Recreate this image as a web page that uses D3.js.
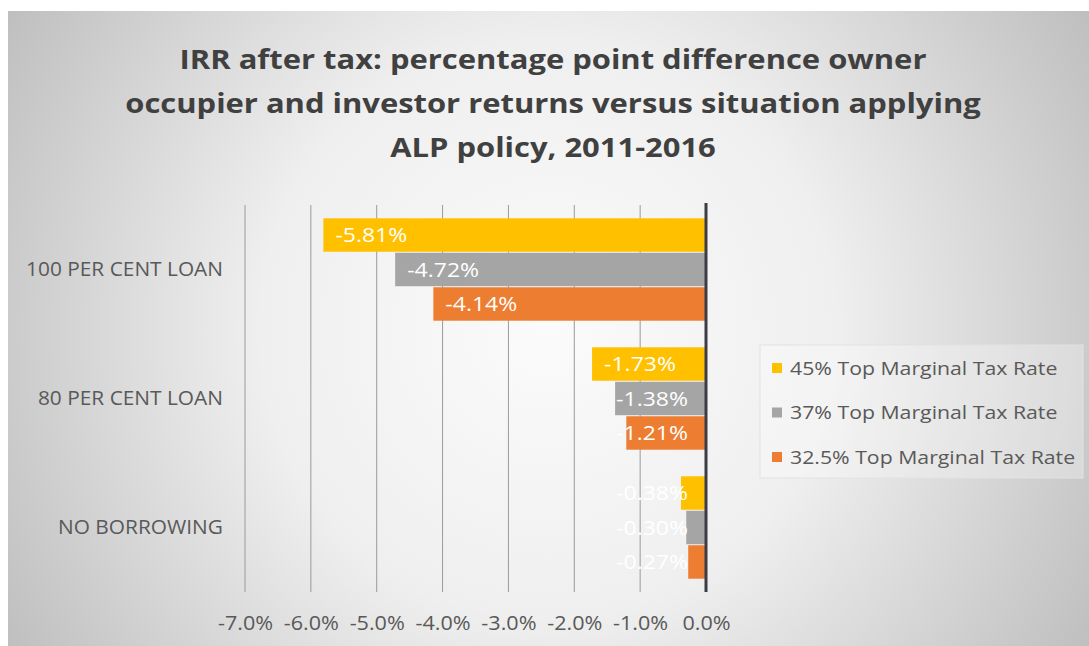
<!DOCTYPE html>
<html>
<head>
<meta charset="utf-8">
<script src="https://cdn.jsdelivr.net/npm/d3@7"></script>
<style>
  body { margin: 0; background: #fff; }
  svg { display: block; font-family: "Open Sans", sans-serif; }
</style>
</head>
<body>
<svg id="chart" width="1089" height="646"></svg>
<script>
var categories = ["100 PER CENT LOAN", "80 PER CENT LOAN", "NO BORROWING"];
var seriesNames = ["45% Top Marginal Tax Rate", "37% Top Marginal Tax Rate", "32.5% Top Marginal Tax Rate"];
var seriesColors = ["#FFC000", "#A5A5A5", "#ED7D31"];
var rate45 = [-5.81, -1.73, -0.38];
var rate37 = [-4.72, -1.38, -0.30];
var rate325 = [-4.14, -1.21, -0.27];
var xTicks = [-7, -6, -5, -4, -3, -2, -1, 0];
var titleLines = ["IRR after tax: percentage point difference owner",
                  "occupier and investor returns versus situation applying",
                  "ALP policy, 2011-2016"];

var seriesValues = [rate45, rate37, rate325];

var svg = d3.select("#chart");

// the source picture is a bit wider than tall, so texts get a horizontal stretch
function stretch(sel, sx) {
    sel.each(function() {
        var t = d3.select(this);
        var tx = +t.attr("x") || 0, ty = +t.attr("y") || 0;
        t.attr("x", 0).attr("y", 0)
         .attr("transform", "translate(" + tx + "," + ty + ") scale(" + sx + ",1)");
    });
}

// background: radial grey fill like the excel chart area
var defs = svg.append("defs");
var grad = defs.append("radialGradient")
    .attr("id", "bg")
    .attr("gradientUnits", "userSpaceOnUse")
    .attr("cx", 548).attr("cy", 330).attr("r", 640);
grad.append("stop").attr("offset", "0%").attr("stop-color", "#fbfbfb");
grad.append("stop").attr("offset", "45%").attr("stop-color", "#efefef");
grad.append("stop").attr("offset", "100%").attr("stop-color", "#bdbdbd");

svg.append("rect")
    .attr("x", 8).attr("y", 11)
    .attr("width", 1089 - 8).attr("height", 646 - 11)
    .style("fill", "url(#bg)");

var plot = { left: 245, right: 706, top: 205, bottom: 592 };

var x = d3.scaleLinear()
    .domain([-7, 0])
    .range([plot.left, plot.right]);

var y0 = d3.scaleBand()
    .domain(categories)
    .range([plot.top, plot.bottom])
    .paddingInner(0.19)
    .paddingOuter(0.095);

var y1 = d3.scaleBand()
    .domain(d3.range(seriesNames.length))
    .range([0, y0.bandwidth()])
    .padding(0.03);

// title
var title = svg.append("g")
    .selectAll("text")
    .data(titleLines)
    .enter()
    .append("text")
    .attr("x", 553)
    .attr("y", function(d, i) { return 69 + i * 44; })
    .attr("text-anchor", "middle")
    .style("font-size", "26px")
    .style("font-weight", "bold")
    .style("fill", "#404040")
    .text(function(d) { return d; });
stretch(title, 1.19);

// gridlines
svg.append("g")
    .selectAll("line")
    .data(xTicks.filter(function(d) { return d !== 0; }))
    .enter()
    .append("line")
    .attr("x1", function(d) { return x(d); })
    .attr("x2", function(d) { return x(d); })
    .attr("y1", plot.top)
    .attr("y2", plot.bottom)
    .style("stroke", "#9a9a9a")
    .style("stroke-width", 1);

// x axis labels
var xAxis = d3.axisBottom(x)
    .tickValues(xTicks)
    .tickSize(0)
    .tickPadding(0);

var gx = svg.append("g")
    .attr("transform", "translate(0," + plot.bottom + ")")
    .call(xAxis);
gx.select(".domain").remove();
var xText = gx.selectAll("text")
    .attr("y", 31)
    .attr("dy", "0.35em")
    .style("font-family", "Open Sans, sans-serif")
    .style("font-size", "20px")
    .style("fill", "#595959")
    .text(function(d) { return d3.format(".1f")(d).replace("−", "-") + "%"; });
stretch(xText, 1.08);

// category labels
var yAxis = d3.axisLeft(y0).tickSize(0).tickPadding(22);
var gy = svg.append("g")
    .attr("transform", "translate(" + plot.left + ",0)")
    .call(yAxis);
gy.select(".domain").remove();
var yText = gy.selectAll("text")
    .style("font-family", "Open Sans, sans-serif")
    .style("font-size", "19.5px")
    .style("fill", "#595959");
stretch(yText, 1.07);

// bars
var rows = categories.map(function(c, ci) {
    return {
        category: c,
        values: seriesValues.map(function(s, si) {
            return { series: si, value: s[ci], category: c };
        })
    };
});

var group = svg.append("g")
    .selectAll(".cat")
    .data(rows)
    .enter()
    .append("g")
    .attr("class", "cat")
    .attr("transform", function(d) { return "translate(0," + y0(d.category) + ")"; });

group.selectAll("rect")
    .data(function(d) { return d.values; })
    .enter()
    .append("rect")
    .attr("x", function(d) { return x(d.value); })
    .attr("y", function(d) { return y1(d.series); })
    .attr("width", function(d) { return x(0) - x(d.value); })
    .attr("height", y1.bandwidth())
    .style("fill", function(d) { return seriesColors[d.series]; });

// data labels, inside the bar end; short bars push the label out to the left
var labelStretch = 1.15;
var labels = group.selectAll(".lbl")
    .data(function(d) { return d.values; })
    .enter()
    .append("text")
    .attr("class", "lbl")
    .attr("y", function(d) { return y1(d.series) + y1.bandwidth() / 2; })
    .attr("dy", "0.35em")
    .attr("text-anchor", "end")
    .style("font-size", "20px")
    .style("fill", "#ffffff")
    .text(function(d) { return d3.format(".2f")(d.value).replace("−", "-") + "%"; });

labels.attr("x", function(d) {
    var tw = this.getComputedTextLength() * labelStretch;
    return Math.min(x(d.value) + 12 + tw, x(0) - 18);
});
stretch(labels, labelStretch);

// zero axis line
svg.append("line")
    .attr("x1", x(0)).attr("x2", x(0))
    .attr("y1", plot.top - 2).attr("y2", plot.bottom)
    .style("stroke", "#3c3c46")
    .style("stroke-width", 3);

// legend
var legend = svg.append("g")
    .attr("transform", "translate(760,345)");

legend.append("rect")
    .attr("width", 323)
    .attr("height", 133)
    .style("fill", "#ffffff")
    .style("fill-opacity", 0.3)
    .style("stroke", "#e2e2e2")
    .style("stroke-width", 1);

var item = legend.selectAll(".item")
    .data(seriesNames)
    .enter()
    .append("g")
    .attr("class", "item")
    .attr("transform", function(d, i) { return "translate(0," + (23 + i * 44.5) + ")"; });

item.append("rect")
    .attr("x", 12)
    .attr("y", -5)
    .attr("width", 10)
    .attr("height", 10)
    .style("fill", function(d, i) { return seriesColors[i]; });

var legendText = item.append("text")
    .attr("x", 30)
    .attr("dy", "0.35em")
    .style("font-size", "19px")
    .style("fill", "#595959")
    .text(function(d) { return d; });
stretch(legendText, 1.12);
</script>
</body>
</html>
